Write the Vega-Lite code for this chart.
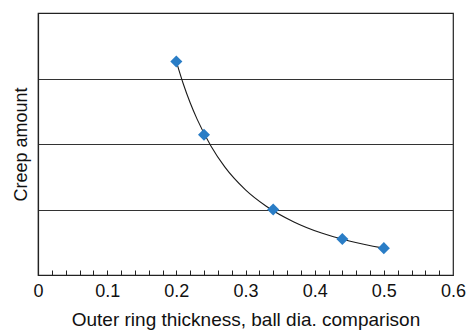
{
  "$schema": "https://vega.github.io/schema/vega-lite/v6.json",
  "width": 415,
  "height": 262,
  "autosize": "none",
  "padding": {"left": 38, "top": 13, "right": 20, "bottom": 56},
  "config": {
    "font": "Liberation Sans",
    "view": {"stroke": "#222", "strokeWidth": 1.2},
    "axis": {"labelFont": "Liberation Sans", "titleFont": "Liberation Sans"}
  },
  "datasets": {
    "pts": [
      {"x": 0.2, "y": 3.26},
      {"x": 0.24, "y": 2.14},
      {"x": 0.34, "y": 1.0},
      {"x": 0.44, "y": 0.55},
      {"x": 0.5, "y": 0.41}
    ],
    "curve": [
      {"x": 0.2, "y": 3.26},
      {"x": 0.21, "y": 2.92},
      {"x": 0.22, "y": 2.63},
      {"x": 0.23, "y": 2.38},
      {"x": 0.25, "y": 1.97},
      {"x": 0.27, "y": 1.65},
      {"x": 0.3, "y": 1.3},
      {"x": 0.33, "y": 1.05},
      {"x": 0.37, "y": 0.81},
      {"x": 0.41, "y": 0.64},
      {"x": 0.45, "y": 0.52},
      {"x": 0.5, "y": 0.41}
    ]
  },
  "resolve": {"axis": {"x": "independent"}},
  "layer": [
    {
      "data": {"name": "curve"},
      "mark": {"type": "line", "interpolate": "monotone", "color": "#1a1a1a", "strokeWidth": 1.1},
      "encoding": {
        "x": {
          "field": "x", "type": "quantitative",
          "scale": {"domain": [0, 0.6], "nice": false},
          "axis": {
            "orient": "bottom",
            "values": [0, 0.1, 0.2, 0.3, 0.4, 0.5, 0.6],
            "format": ".1~f",
            "ticks": false,
            "domainColor": "#222",
            "domainWidth": 1.2,
            "grid": false,
            "labelPadding": 7,
            "labelFontSize": 18,
            "labelColor": "#111",
            "labelFlush": false,
            "labelOverlap": false,
            "title": "Outer ring thickness, ball dia. comparison",
            "titleFontSize": 19,
            "titleFontWeight": "normal",
            "titleColor": "#111",
            "titlePadding": 10
          }
        },
        "y": {
          "field": "y", "type": "quantitative",
          "scale": {"domain": [0, 4], "nice": false},
          "axis": {
            "values": [1, 2, 3],
            "labels": false,
            "ticks": false,
            "grid": true,
            "gridColor": "#333",
            "gridOpacity": 1,
            "gridWidth": 1.1,
            "domainColor": "#222",
            "domainWidth": 1.2,
            "title": "Creep amount",
            "titleFontSize": 18,
            "titleFontWeight": "normal",
            "titleColor": "#111",
            "titlePadding": 8
          }
        }
      }
    },
    {
      "data": {"name": "pts"},
      "mark": {"type": "point", "shape": "diamond", "filled": true, "color": "#2a7dc6", "size": 145, "opacity": 1},
      "encoding": {
        "x": {
          "field": "x", "type": "quantitative",
          "axis": {
            "orient": "bottom",
            "values": [0.02,0.04,0.06,0.08,0.1,0.12,0.14,0.16,0.18,0.2,0.22,0.24,0.26,0.28,0.3,0.32,0.34,0.36,0.38,0.4,0.42,0.44,0.46,0.48,0.5,0.52,0.54,0.56,0.58],
            "labels": false,
            "tickSize": -5,
            "tickColor": "#222",
            "domain": false,
            "grid": false,
            "title": null
          }
        },
        "y": {"field": "y", "type": "quantitative"}
      }
    }
  ]
}
